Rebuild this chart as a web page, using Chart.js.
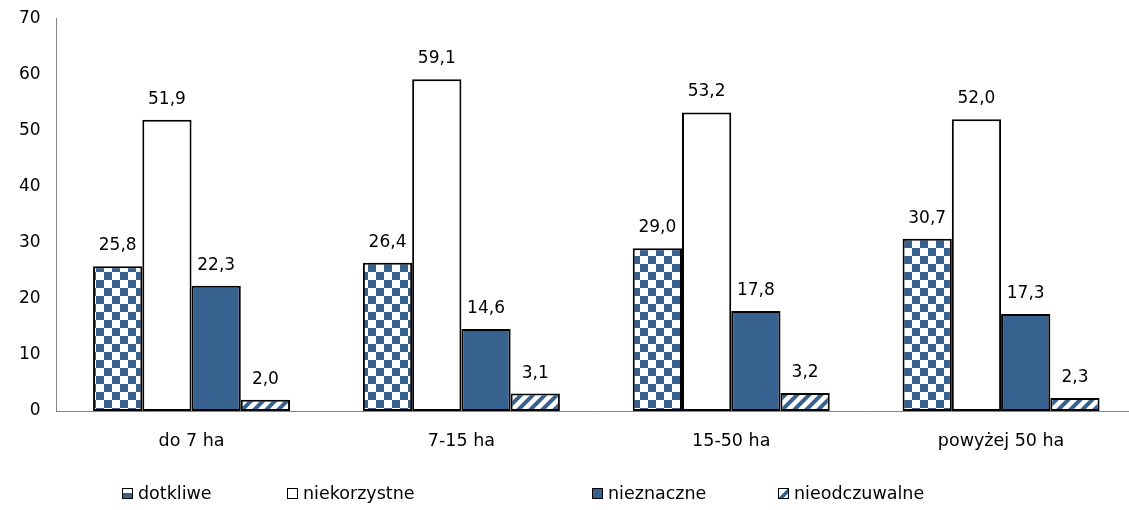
<!DOCTYPE html>
<html><head><meta charset="utf-8">
<script src="https://cdn.jsdelivr.net/npm/chart.js@4/dist/chart.umd.min.js"></script>
<style>
html,body{margin:0;padding:0;background:#fff;overflow:hidden;width:1129px;height:510px;}
#wrap{position:absolute;left:0;top:-8px;width:1136px;height:518px;}
.lg{position:absolute;top:483px;font-family:"DejaVu Sans",Verdana,sans-serif;font-size:17.5px;color:#000;display:flex;align-items:center;white-space:nowrap;}
.lg i{display:inline-block;width:9px;height:9px;border:1.5px solid #000;margin-right:5px;box-sizing:content-box;}
</style></head><body>
<div id="wrap"><canvas id="c" width="1136" height="518"></canvas></div>
<div class="lg" style="left:122px"><i style="background:linear-gradient(#fff 50%,#37618f 50%)"></i>dotkliwe</div>
<div class="lg" style="left:287px"><i style="background:#fff"></i>niekorzystne</div>
<div class="lg" style="left:592px"><i style="background:#37618f"></i>nieznaczne</div>
<div class="lg" style="left:778px"><i style="background:linear-gradient(135deg,#fff 45%,#37618f 45%,#37618f 75%,#fff 75%)"></i>nieodczuwalne</div>
<script>
const categories = ["do 7 ha", "7-15 ha", "15-50 ha", "powyżej 50 ha"];
const seriesNames = ["dotkliwe", "niekorzystne", "nieznaczne", "nieodczuwalne"];
const dotkliwe = [25.8, 26.4, 29.0, 30.7];
const niekorzystne = [51.9, 59.1, 53.2, 52.0];
const nieznaczne = [22.3, 14.6, 17.8, 17.3];
const nieodczuwalne = [2.0, 3.1, 3.2, 2.3];
const yTicks = [0, 10, 20, 30, 40, 50, 60, 70];

const BLUE = "#37618f";
const FONT = "'DejaVu Sans', Verdana, sans-serif";
function checker() {
  const c = document.createElement("canvas"); c.width = 16; c.height = 16;
  const x = c.getContext("2d");
  x.fillStyle = "#fff"; x.fillRect(0,0,16,16);
  x.fillStyle = BLUE; x.fillRect(0,0,8,8); x.fillRect(8,8,8,8);
  return x.createPattern(c, "repeat");
}
function stripes() {
  const c = document.createElement("canvas"); c.width = 12; c.height = 12;
  const x = c.getContext("2d");
  x.fillStyle = "#fff"; x.fillRect(0,0,12,12);
  x.strokeStyle = BLUE; x.lineWidth = 4;
  x.beginPath();
  x.moveTo(-3,15); x.lineTo(15,-3);
  x.moveTo(-9,9); x.lineTo(9,-9);
  x.moveTo(3,21); x.lineTo(21,3);
  x.stroke();
  return x.createPattern(c, "repeat");
}
const fills = [checker(), "#ffffff", BLUE, stripes()];
const values = [dotkliwe, niekorzystne, nieznaczne, nieodczuwalne];

const labelPlugin = {
  id: "vals",
  afterDatasetsDraw(chart) {
    const ctx = chart.ctx;
    ctx.save();
    ctx.font = "17px " + FONT;
    ctx.fillStyle = "#000";
    ctx.textAlign = "center";
    ctx.textBaseline = "bottom";
    chart.data.datasets.forEach((ds, i) => {
      chart.getDatasetMeta(i).data.forEach((bar, j) => {
        ctx.fillText(ds.data[j].toFixed(1).replace(".", ","), bar.x, bar.y - 12);
      });
    });
    ctx.restore();
  }
};

new Chart(document.getElementById("c"), {
  type: "bar",
  data: {
    labels: categories,
    datasets: seriesNames.map((n, i) => ({
      label: n, data: values[i], backgroundColor: fills[i],
      borderColor: "#000", borderWidth: 2, borderSkipped: false,
      barPercentage: 1.0, categoryPercentage: 0.73
    }))
  },
  options: {
    responsive: false, animation: false,
    layout: { padding: { top: 0, bottom: 38, left: 3, right: 0 } },
    plugins: { legend: { display: false }, tooltip: { enabled: false } },
    scales: {
      x: {
        grid: { display: false, drawTicks: false },
        border: { display: true, color: "#868686", width: 1 },
        ticks: { color: "#000", font: { family: FONT, size: 17.5 }, padding: 20 }
      },
      y: {
        min: 0, max: 70,
        afterBuildTicks(s) { s.ticks = yTicks.map(v => ({ value: v })); },
        grid: { display: false, drawTicks: false },
        border: { display: true, color: "#868686", width: 1 },
        ticks: { color: "#000", font: { family: FONT, size: 17 }, padding: 16 }
      }
    }
  },
  plugins: [labelPlugin]
});
</script>
</body></html>
